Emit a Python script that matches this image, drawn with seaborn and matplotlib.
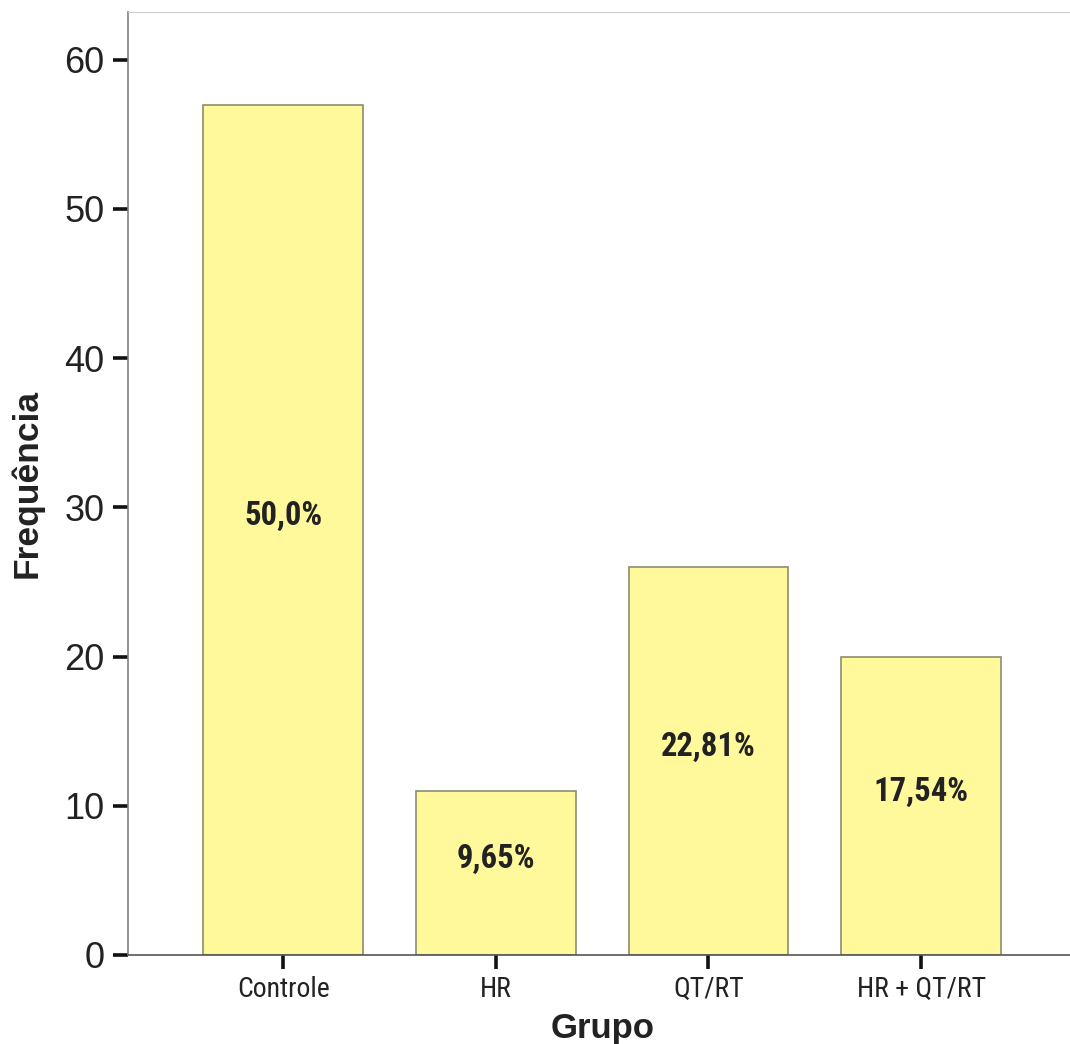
import matplotlib
matplotlib.use("Agg")
import matplotlib.pyplot as plt
import matplotlib.transforms as mtransforms
import seaborn as sns
import pandas as pd

# data
grupos = ["Controle", "HR", "QT/RT", "HR + QT/RT"]
frequencia = [57, 11, 26, 20]
percentuais = ["50,0%", "9,65%", "22,81%", "17,54%"]

df = pd.DataFrame({"Grupo": grupos, "Frequencia": frequencia})

sns.set_style("white")
plt.rcParams["font.family"] = ["Liberation Sans", "DejaVu Sans"]
narrow = ["Roboto Condensed", "DejaVu Sans"]

fig = plt.figure(figsize=(10.7, 10.44), dpi=100)
ax = fig.add_axes([0.1196, 0.0853, 0.8804, 0.9032])

sns.barplot(data=df, x="Grupo", y="Frequencia", order=grupos, color="#FFF99B",
            saturation=1, width=0.75, edgecolor="#8C8C70", linewidth=1.2, ax=ax)

ax.set_xlim(-0.73, 3.70)
ax.set_ylim(0, 63.2)
ax.set_yticks([0, 10, 20, 30, 40, 50, 60])

# percentage labels inside the bars
off = mtransforms.offset_copy(ax.transData, fig=fig, x=0, y=14, units="dots")
for i, (v, txt) in enumerate(zip(frequencia, percentuais)):
    ax.text(i, v / 2, txt, transform=off, ha="center", va="center",
            fontsize=23.5, fontweight="bold", color="#222222", family=narrow)

# spines
ax.spines["right"].set_visible(False)
ax.spines["top"].set_color("#CCCCCC")
ax.spines["top"].set_linewidth(0.8)
ax.spines["left"].set_color("#808080")
ax.spines["left"].set_linewidth(1.2)
ax.spines["bottom"].set_color("#555555")
ax.spines["bottom"].set_linewidth(1.2)

ax.tick_params(axis="y", direction="out", length=11, width=2.6, color="#111111",
               left=True, labelsize=26, pad=6, labelcolor="#222222")
ax.tick_params(axis="x", direction="out", length=10, width=2.6, color="#111111",
               bottom=True, labelsize=20, pad=5, labelcolor="#222222")
for lab in ax.get_xticklabels():
    lab.set_family(narrow)

ax.set_ylabel("Frequência", fontsize=25.5, fontweight="bold", color="#222222")
ax.yaxis.set_label_coords(-0.090, 0.5)
ax.set_xlabel("Grupo", fontsize=25, fontweight="bold", color="#222222", va="top")
ax.xaxis.set_label_coords(0.504, -0.0605)

fig.savefig("out.png", dpi=100)
